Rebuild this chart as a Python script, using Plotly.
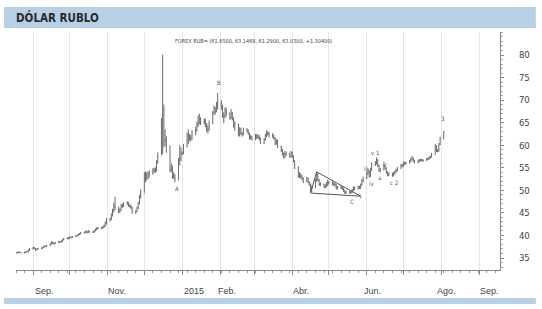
import pandas as pd
import plotly.graph_objects as go

# ---------------- data (USD/RUB daily, FOREX RUB=) ----------------
start_date = "2014-08-18"

opens = [
    36.05, 36.15, 36.25, 36.30, 36.20,  36.15, 36.20, 36.35, 36.40, 36.75,
    37.00, 37.30, 37.10, 36.80, 36.95,  37.05, 37.20, 37.40, 37.60, 37.55,
    37.70, 38.10, 38.50, 38.30, 38.15,  38.40, 38.60, 38.55, 38.75, 39.00,
    39.25, 39.35, 39.45, 39.60, 39.55,  39.75, 39.90, 40.05, 40.20, 40.35,
    40.55, 40.65, 40.85, 40.60, 40.95,  40.80, 40.70, 41.05, 41.30, 41.55,
    41.60, 41.65, 41.80, 42.10, 42.70,  43.40, 43.60, 44.50, 45.40, 46.50,
    46.10, 45.40, 45.60, 46.60, 46.50,  47.00, 47.20, 46.60, 46.50, 46.20,
    45.10, 45.30, 46.10, 47.10, 48.50,  49.30, 52.50, 53.60, 52.70, 53.50,
    53.80, 54.50, 54.30, 54.40, 56.20,  57.50, 64.50, 68.00, 61.00, 61.20,
    59.80, 54.50, 54.70, 53.00, 53.20,  52.50, 56.40, 57.00, 58.00, 58.20,
    59.90, 61.00, 61.70, 61.80, 61.50,  62.50, 63.30, 64.50, 65.00, 65.70,
    65.20, 65.30, 64.40, 63.50, 63.40,  64.90, 67.20, 68.10, 67.50, 68.70,
    69.40, 68.40, 66.50, 66.40, 67.70,  66.90, 66.10, 67.00, 66.00, 64.40,
    64.60, 62.30, 63.60, 62.60, 62.50,  63.50, 63.20, 62.60, 61.60, 61.90,
    61.30, 62.10, 61.80, 62.00, 61.40,  60.50, 61.30, 62.00, 62.60, 62.60,
    62.30, 62.00, 61.50, 60.40, 61.00,  59.70, 58.80, 58.00, 57.40, 58.10,
    58.00, 57.50, 58.40, 57.50, 56.50,  55.00, 53.10, 53.40, 53.10, 52.60,
    52.00, 52.60, 51.80, 51.30, 49.90,  50.70, 52.20, 53.50, 52.30, 51.30,
    51.30, 50.80, 50.90, 51.20, 51.80,  51.70, 51.40, 51.40, 51.20, 50.40,
    50.70, 50.60, 50.30, 49.90, 49.50,  49.60, 49.50, 49.60, 50.00, 50.60,
    50.30, 50.80, 50.50, 51.20, 52.10,  52.70, 53.80, 54.20, 53.10, 54.50,
    55.80, 56.10, 56.60, 55.50, 54.40,  54.60, 55.30, 54.90, 54.00, 53.40,
    53.70, 53.30, 53.80, 54.10, 54.50,  54.90, 55.50, 55.40, 56.00, 55.90,
    56.10, 56.40, 56.80, 57.20, 56.50,  56.20, 56.50, 56.60, 56.70, 56.70,
    56.60, 56.90, 57.00, 57.20, 57.40,  58.00, 59.80, 58.80, 58.70, 60.20,
    61.65,
]
highs = [
    36.30, 36.40, 36.45, 36.40, 36.30,  36.35, 36.50, 36.55, 36.95, 37.20,
    37.50, 37.40, 37.20, 37.10, 37.25,  37.35, 37.55, 37.80, 37.75, 37.90,
    38.25, 38.70, 38.60, 38.45, 38.55,  38.80, 38.75, 38.90, 39.15, 39.40,
    39.55, 39.65, 39.80, 39.75, 39.90,  40.05, 40.25, 40.40, 40.55, 40.75,
    40.85, 41.10, 40.95, 41.20, 41.05,  40.95, 41.20, 41.50, 41.80, 41.85,
    41.90, 42.05, 42.40, 43.10, 43.90,  44.00, 44.90, 45.90, 47.20, 48.60,
    46.40, 46.00, 47.00, 47.00, 47.40,  47.60, 47.40, 46.90, 46.80, 46.40,
    45.60, 46.40, 47.40, 49.00, 50.20,  54.00, 54.20, 54.00, 54.20, 54.40,
    54.90, 55.00, 55.10, 56.70, 58.40,  66.10, 80.10, 69.00, 63.50, 62.00,
    59.90, 56.00, 55.50, 54.00, 53.60,  57.20, 60.00, 59.50, 58.60, 60.30,
    62.80, 63.50, 62.50, 62.30, 63.40,  64.10, 65.20, 66.60, 67.00, 66.20,
    66.00, 65.80, 64.90, 64.40, 65.50,  67.60, 68.80, 68.50, 69.60, 71.60,
    70.00, 69.00, 67.30, 68.40, 68.30,  67.30, 68.00, 67.40, 66.20, 65.30,
    64.80, 64.00, 63.90, 63.00, 63.90,  63.80, 63.50, 62.80, 62.30, 62.10,
    62.50, 62.50, 62.40, 62.20, 61.70,  61.60, 62.50, 63.30, 63.10, 62.90,
    62.70, 62.30, 61.80, 61.40, 61.20,  59.90, 59.20, 58.40, 58.70, 58.60,
    58.30, 58.70, 58.60, 57.80, 56.70,  55.30, 54.00, 53.80, 53.40, 52.90,
    53.00, 52.80, 52.00, 51.50, 51.10,  52.60, 54.00, 53.80, 52.50, 51.80,
    51.50, 51.30, 51.80, 52.40, 52.10,  52.00, 51.80, 51.70, 51.40, 51.00,
    51.10, 50.90, 50.60, 50.10, 49.90,  49.90, 49.90, 50.30, 50.90, 50.80,
    51.00, 51.00, 51.50, 52.50, 53.00,  54.20, 54.80, 54.40, 55.00, 56.20,
    56.50, 57.30, 56.90, 55.70, 55.00,  55.80, 55.50, 55.10, 54.20, 54.00,
    53.90, 54.10, 54.40, 54.80, 55.20,  55.90, 55.80, 56.40, 56.30, 56.40,
    56.70, 57.20, 57.60, 57.30, 56.80,  56.80, 56.90, 57.00, 57.00, 56.90,
    57.20, 57.30, 57.50, 57.70, 58.30,  60.30, 60.00, 59.20, 60.50, 61.90,
    63.1468,
]
lows = [
    35.95, 36.05, 36.15, 36.10, 36.05,  36.05, 36.10, 36.25, 36.30, 36.60,
    36.90, 37.00, 36.60, 36.70, 36.85,  36.95, 37.10, 37.30, 37.40, 37.45,
    37.65, 38.00, 38.15, 38.00, 38.05,  38.30, 38.40, 38.40, 38.65, 38.90,
    39.10, 39.20, 39.30, 39.40, 39.45,  39.65, 39.80, 39.95, 40.10, 40.25,
    40.40, 40.55, 40.45, 40.50, 40.60,  40.55, 40.60, 40.90, 41.15, 41.35,
    41.40, 41.50, 41.65, 41.95, 42.40,  43.10, 43.40, 44.20, 45.10, 45.60,
    44.90, 45.00, 45.50, 46.10, 46.30,  46.80, 46.40, 46.20, 45.90, 44.80,
    44.80, 45.10, 45.90, 46.90, 48.20,  49.50, 51.80, 52.20, 52.50, 52.80,
    53.50, 53.80, 53.90, 54.20, 55.90,  57.80, 58.00, 59.50, 59.80, 58.30,
    54.00, 54.00, 52.60, 52.50, 51.80,  52.20, 55.50, 56.50, 57.80, 58.00,
    59.50, 60.30, 61.00, 60.80, 61.20,  62.20, 63.00, 64.00, 64.60, 64.50,
    64.60, 64.00, 62.90, 62.60, 63.20,  64.70, 66.70, 66.80, 67.30, 67.90,
    67.80, 66.10, 64.90, 66.00, 66.40,  65.60, 65.80, 65.50, 63.90, 63.20,
    62.00, 61.90, 62.30, 61.90, 62.20,  62.80, 62.30, 61.20, 61.30, 61.00,
    61.10, 61.40, 61.40, 61.10, 60.30,  60.30, 61.00, 61.80, 62.10, 61.70,
    61.60, 61.20, 60.00, 60.10, 59.40,  58.50, 57.70, 57.10, 57.20, 57.60,
    57.20, 57.30, 57.20, 56.20, 54.70,  52.80, 52.70, 52.60, 52.20, 51.60,
    51.80, 51.60, 51.00, 49.60, 49.70,  50.50, 51.90, 52.00, 51.00, 50.90,
    50.50, 50.40, 50.70, 51.00, 51.30,  51.10, 51.00, 50.80, 50.20, 50.20,
    50.30, 50.10, 49.60, 49.20, 49.20,  49.20, 49.20, 49.40, 49.80, 50.00,
    50.20, 50.30, 50.30, 51.00, 51.80,  52.50, 53.40, 52.80, 53.00, 54.30,
    55.40, 55.70, 55.20, 54.10, 54.00,  54.40, 54.60, 53.70, 53.10, 53.20,
    53.00, 53.10, 53.50, 53.90, 54.20,  54.80, 55.10, 55.20, 55.60, 55.70,
    55.90, 56.20, 56.60, 56.30, 56.00,  56.00, 56.30, 56.40, 56.40, 56.30,
    56.50, 56.70, 56.80, 57.00, 57.30,  57.90, 58.50, 58.40, 58.60, 60.00,
    61.29,
]
closes = [
    36.15, 36.25, 36.30, 36.20, 36.15,  36.20, 36.35, 36.40, 36.75, 37.00,
    37.30, 37.10, 36.80, 36.95, 37.05,  37.20, 37.40, 37.60, 37.55, 37.70,
    38.10, 38.50, 38.30, 38.15, 38.40,  38.60, 38.55, 38.75, 39.00, 39.25,
    39.35, 39.45, 39.60, 39.55, 39.75,  39.90, 40.05, 40.20, 40.35, 40.55,
    40.65, 40.85, 40.60, 40.95, 40.80,  40.70, 41.05, 41.30, 41.55, 41.60,
    41.65, 41.80, 42.10, 42.70, 43.40,  43.60, 44.50, 45.40, 46.50, 46.10,
    45.40, 45.60, 46.60, 46.50, 47.00,  47.20, 46.60, 46.50, 46.20, 45.10,
    45.30, 46.10, 47.10, 48.50, 49.30,  52.50, 53.60, 52.70, 53.50, 53.80,
    54.50, 54.30, 54.40, 56.20, 57.50,  64.50, 68.00, 61.00, 61.20, 59.80,
    54.50, 54.70, 53.00, 53.20, 52.50,  56.40, 57.00, 58.00, 58.20, 59.90,
    61.00, 61.70, 61.80, 61.50, 62.50,  63.30, 64.50, 65.00, 65.70, 65.20,
    65.30, 64.40, 63.50, 63.40, 64.90,  67.20, 68.10, 67.50, 68.70, 69.40,
    68.40, 66.50, 66.40, 67.70, 66.90,  66.10, 67.00, 66.00, 64.40, 64.60,
    62.30, 63.60, 62.60, 62.50, 63.50,  63.20, 62.60, 61.60, 61.90, 61.30,
    62.10, 61.80, 62.00, 61.40, 60.50,  61.30, 62.00, 62.60, 62.60, 62.30,
    62.00, 61.50, 60.40, 61.00, 59.70,  58.80, 58.00, 57.40, 58.10, 58.00,
    57.50, 58.40, 57.50, 56.50, 55.00,  53.10, 53.40, 53.10, 52.60, 52.00,
    52.60, 51.80, 51.30, 49.90, 50.70,  52.20, 53.50, 52.30, 51.30, 51.30,
    50.80, 50.90, 51.20, 51.80, 51.70,  51.40, 51.40, 51.20, 50.40, 50.70,
    50.60, 50.30, 49.90, 49.50, 49.60,  49.50, 49.60, 50.00, 50.60, 50.30,
    50.80, 50.50, 51.20, 52.10, 52.70,  53.80, 54.20, 53.10, 54.50, 55.80,
    56.10, 56.60, 55.50, 54.40, 54.60,  55.30, 54.90, 54.00, 53.40, 53.70,
    53.30, 53.80, 54.10, 54.50, 54.90,  55.50, 55.40, 56.00, 55.90, 56.10,
    56.40, 56.80, 57.20, 56.50, 56.20,  56.50, 56.60, 56.70, 56.70, 56.60,
    56.90, 57.00, 57.20, 57.40, 58.00,  59.80, 58.80, 58.70, 60.20, 61.70,
    63.03,
]
dates = pd.bdate_range(start_date, periods=len(closes))

# Elliott-wave labels
wave_labels = ["A", "B", "C", "i", "iii", "iv", "v 1", "a", "b", "c 2", "3"]
wave_dates = ["2014-12-28", "2015-01-31", "2015-05-20", "2015-05-27", "2015-06-01",
              "2015-06-05", "2015-06-08", "2015-06-11", "2015-06-16", "2015-06-23", "2015-08-02"]
wave_values = [50.3, 73.8, 47.6, 48.7, 54.9, 51.6, 58.3, 52.9, 56.0, 51.8, 66.0]

# triangle drawn on the chart
tri_dates = ["2015-04-16", "2015-04-21", "2015-05-27", "2015-04-16"]
tri_values = [49.4, 54.1, 48.7, 49.4]

# axis labels
month_starts = [f"{y}-{m:02d}-01" for y, m in
                [(2014, 9), (2014, 10), (2014, 11), (2014, 12), (2015, 1), (2015, 2), (2015, 3),
                 (2015, 4), (2015, 5), (2015, 6), (2015, 7), (2015, 8), (2015, 9)]]
x_label_text = ["Sep.", "Nov.", "2015", "Feb.", "Abr.", "Jun.", "Ago.", "Sep."]
x_label_dates = ["2014-09-10", "2014-11-09", "2015-01-11", "2015-02-07",
                 "2015-04-08", "2015-06-06", "2015-08-05", "2015-09-09"]
y_ticks = [35, 40, 45, 50, 55, 60, 65, 70, 75, 80]

title_text = "DÓLAR RUBLO"
header_text = "FOREX RUB= (61.6500, 63.1468, 61.2900, 63.0300, +1.30400)"

# ---------------- figure ----------------
NARROW = "DejaVu Sans Condensed, Liberation Sans Narrow, sans-serif"
BAR = "#6a6a6a"

fig = go.Figure()
fig.add_trace(go.Ohlc(
    x=dates, open=opens, high=highs, low=lows, close=closes,
    increasing=dict(line=dict(color=BAR, width=1)),
    decreasing=dict(line=dict(color=BAR, width=1)),
    tickwidth=0.4, hoverinfo="skip", showlegend=False,
))
fig.add_trace(go.Scatter(
    x=tri_dates, y=tri_values, mode="lines",
    line=dict(color="#555555", width=1), hoverinfo="skip", showlegend=False,
))

for t, d, v in zip(wave_labels, wave_dates, wave_values):
    fig.add_annotation(x=d, y=v, xref="x", yref="y", text=t, showarrow=False,
                       font=dict(family="DejaVu Sans Condensed, sans-serif", size=6, color="#555555"))

for t, d in zip(x_label_text, x_label_dates):
    fig.add_annotation(x=d, y=-0.088, xref="x", yref="paper", text=t, showarrow=False,
                       yanchor="middle", xanchor="center",
                       font=dict(family="Liberation Sans, Arial", size=9, color="#444444"))

# header and footer bands
fig.add_shape(type="rect", xref="paper", yref="paper", x0=-0.0247, x1=1.0741,
              y0=1.0168, y1=1.1050, fillcolor="#b8d0e6", line=dict(width=0), layer="below")
fig.add_shape(type="rect", xref="paper", yref="paper", x0=-0.0247, x1=1.0741,
              y0=-0.1430, y1=-0.1176, fillcolor="#b8d0e6", line=dict(width=0), layer="below")
fig.add_annotation(x=-0.0041, y=1.061, xref="paper", yref="paper", text=f"<b>{title_text}</b>",
                   showarrow=False, xanchor="left", yanchor="middle",
                   font=dict(family=NARROW, size=11.5, color="#2a2a2a"))
fig.add_annotation(x=0.49, y=0.962, xref="paper", yref="paper", text=header_text,
                   showarrow=False, xanchor="center", yanchor="middle",
                   font=dict(family=NARROW, size=5.5, color="#444444"))

fig.update_layout(
    width=542, height=309,
    margin=dict(l=16, r=40, t=32, b=39),
    paper_bgcolor="white", plot_bgcolor="white",
    showlegend=False,
    xaxis=dict(
        type="date", range=["2014-08-18", "2015-09-18"],
        rangeslider=dict(visible=False),
        tickmode="array", tickvals=month_starts, showticklabels=False,
        ticks="outside", ticklen=4, tickcolor="#888888",
        showgrid=True, gridcolor="#e6e6e6", gridwidth=1,
        showline=True, linecolor="#888888", linewidth=1,
        zeroline=False,
        minor=dict(dtick=7 * 86400000, tick0="2014-08-18", ticks="outside",
                   ticklen=2, tickcolor="#999999", showgrid=False),
    ),
    yaxis=dict(
        side="right", range=[32.34, 85.1],
        tickmode="array", tickvals=y_ticks,
        ticks="outside", ticklen=3, tickcolor="#888888",
        ticklabelstandoff=13,
        tickfont=dict(family=NARROW, size=9.5, color="#444444"),
        showgrid=False, zeroline=False,
        showline=True, linecolor="#888888", linewidth=1,
        minor=dict(dtick=1, ticks="outside", ticklen=2, tickcolor="#aaaaaa", showgrid=False),
    ),
)

fig.write_html("out.html")
